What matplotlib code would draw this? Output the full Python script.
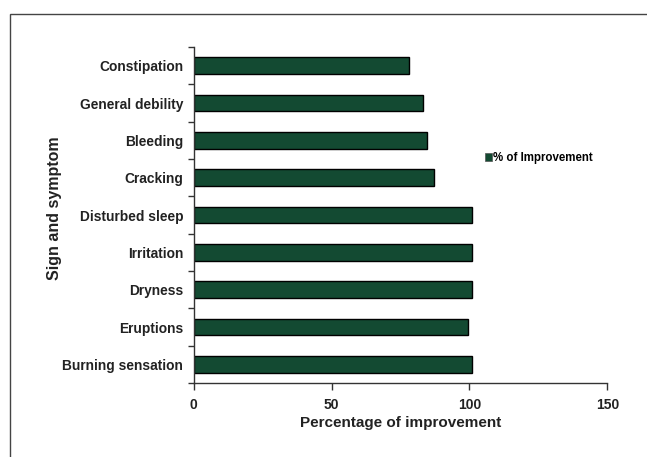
import matplotlib.pyplot as plt
from matplotlib.patches import Rectangle, Patch

# symptoms, bottom to top as drawn
symptoms = ["Burning sensation", "Eruptions", "Dryness", "Irritation",
            "Disturbed sleep", "Cracking", "Bleeding", "General debility",
            "Constipation"]
improvement = [101, 99.5, 101, 101, 101, 87, 84.5, 83, 78]
x_ticks = [0, 50, 100, 150]

bar_color = "#134a32"
plt.rcParams['font.family'] = ['Liberation Sans', 'DejaVu Sans']

fig = plt.figure(figsize=(6.47, 4.57), dpi=100)
W, H = 647, 457
ax = fig.add_axes([193.7 / W, 1 - 383 / H, (607.3 - 193.7) / W, (383 - 47) / H])

ypos = list(range(len(symptoms)))
ax.barh(ypos, improvement, height=0.45, color=bar_color, edgecolor="black", linewidth=1)

ax.set_xlim(0, 150)
ax.set_ylim(-0.5, len(symptoms) - 0.5)
ax.set_xticks(x_ticks)
ax.set_xticklabels([str(t) for t in x_ticks], fontsize=10, fontweight="bold", color="#222222")

# category labels centred on bars, tick marks between categories
ax.set_yticks([i - 0.5 for i in range(len(symptoms) + 1)])
ax.set_yticklabels([])
ax.set_yticks(ypos, minor=True)
ax.set_yticklabels(symptoms, minor=True, fontsize=9.9, fontweight="bold", color="#222222")
ax.tick_params(axis="y", which="minor", length=0, pad=7.5)
ax.tick_params(axis="y", which="major", length=4, width=1, color="#333333")
ax.tick_params(axis="x", length=5, width=1, color="#333333", pad=6)

for s in ["top", "right"]:
    ax.spines[s].set_visible(False)
for s in ["left", "bottom"]:
    ax.spines[s].set_color("#333333")
    ax.spines[s].set_linewidth(1)

ax.set_xlabel("Percentage of improvement", fontsize=11, fontweight="bold", color="#222222", labelpad=3)
fig.text(54 / W, 1 - 208 / H, "Sign and symptom", rotation=90, fontsize=11.5,
         fontweight="bold", color="#222222", ha="center", va="center")

# legend
handle = Patch(facecolor=bar_color, edgecolor="#555555", linewidth=0.5)
ax.legend([handle], ["% of Improvement"], loc="center left",
          bbox_to_anchor=(479 / W, 1 - 158 / H), bbox_transform=fig.transFigure,
          frameon=False, handlelength=0.6, handleheight=0.6, handletextpad=0.15,
          borderpad=0, prop={"size": 8.3, "weight": "bold"})

# outer frame running off the right and bottom edges
fig.patches.append(Rectangle((10 / W, -0.05), 1.1, 1 - 13.5 / H + 0.05,
                             transform=fig.transFigure, fill=False,
                             edgecolor="#444444", linewidth=1))

fig.savefig("out.png", dpi=100)
